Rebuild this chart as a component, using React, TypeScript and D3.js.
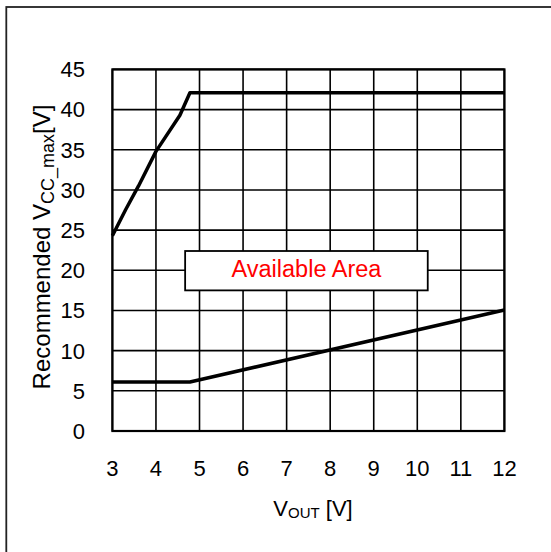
import React from "react";
import * as d3 from "d3";

const xTicks = [3, 4, 5, 6, 7, 8, 9, 10, 11, 12];
const yTicks = [0, 5, 10, 15, 20, 25, 30, 35, 40, 45];
const upperX = [3, 3.3, 3.6, 4, 4.55, 4.78, 12];
const upperY = [24.3, 27.5, 30.5, 34.8, 39.3, 42.1, 42.1];
const lowerX = [3, 4.78, 12];
const lowerY = [6.1, 6.1, 15.05];
const boxX = [4.67, 10.24];
const boxY = [17.5, 22.4];
const boxLabel = "Available Area";

const W = 551, H = 552;
const M = { left: 112.4, right: 504.4, top: 69.4, bottom: 431 };
const FONT = "'Liberation Sans', Arial, sans-serif";

export default function App() {
  const x = d3.scaleLinear().domain([3, 12]).range([M.left, M.right]);
  const y = d3.scaleLinear().domain([0, 45]).range([M.bottom, M.top]);
  const line = d3.line<[number, number]>().x((d) => x(d[0])).y((d) => y(d[1]));
  const upper = upperX.map((v, i) => [v, upperY[i]] as [number, number]);
  const lower = lowerX.map((v, i) => [v, lowerY[i]] as [number, number]);
  return (
    <svg width={W} height={H} style={{ position: "absolute", left: 0, top: 0, background: "#fff" }} fontFamily={FONT}>
      <rect x={6.3} y={7} width={600} height={600} fill="#fff" stroke="#222" strokeWidth={1.8} />
      {xTicks.map((t) => (
        <line key={"gx" + t} x1={x(t)} x2={x(t)} y1={y(0)} y2={y(45)} stroke="#000" strokeWidth={1.6} />
      ))}
      {yTicks.map((t) => (
        <line key={"gy" + t} x1={x(3)} x2={x(12)} y1={y(t)} y2={y(t)} stroke="#000" strokeWidth={1.6} />
      ))}
      <rect x={x(3)} y={y(45)} width={x(12) - x(3)} height={y(0) - y(45)} fill="none" stroke="#000" strokeWidth={2.2} />
      <path d={line(upper) || ""} fill="none" stroke="#000" strokeWidth={3.5} strokeLinejoin="round" />
      <path d={line(lower) || ""} fill="none" stroke="#000" strokeWidth={3.5} strokeLinejoin="round" />
      <rect x={x(boxX[0])} y={y(boxY[1])} width={x(boxX[1]) - x(boxX[0])} height={y(boxY[0]) - y(boxY[1])} fill="#fff" stroke="#000" strokeWidth={1.8} />
      <text x={(x(boxX[0]) + x(boxX[1])) / 2} y={(y(boxY[0]) + y(boxY[1])) / 2 - 2} dy="0.36em" textAnchor="middle" fill="#ff0000" fontSize={23.5}>{boxLabel}</text>
      {yTicks.map((t) => (
        <text key={"ty" + t} x={85} y={y(t)} dy="0.36em" textAnchor="end" fontSize={22} fill="#000">{t}</text>
      ))}
      {xTicks.map((t) => (
        <text key={"tx" + t} x={x(t)} y={476} textAnchor="middle" fontSize={22} fill="#000">{t}</text>
      ))}
      <text x={313} y={516} textAnchor="middle" fontSize={22} fill="#000">
        V<tspan fontSize={15} dy={2}>OUT</tspan><tspan dy={-2}> [V]</tspan>
      </text>
      <text transform={`translate(50,${247}) rotate(-90)`} textAnchor="middle" fontSize={24} fill="#000">
        Recommended V<tspan fontSize={18} dy={4}>CC_max</tspan><tspan dy={-4}>[V]</tspan>
      </text>
    </svg>
  );
}
